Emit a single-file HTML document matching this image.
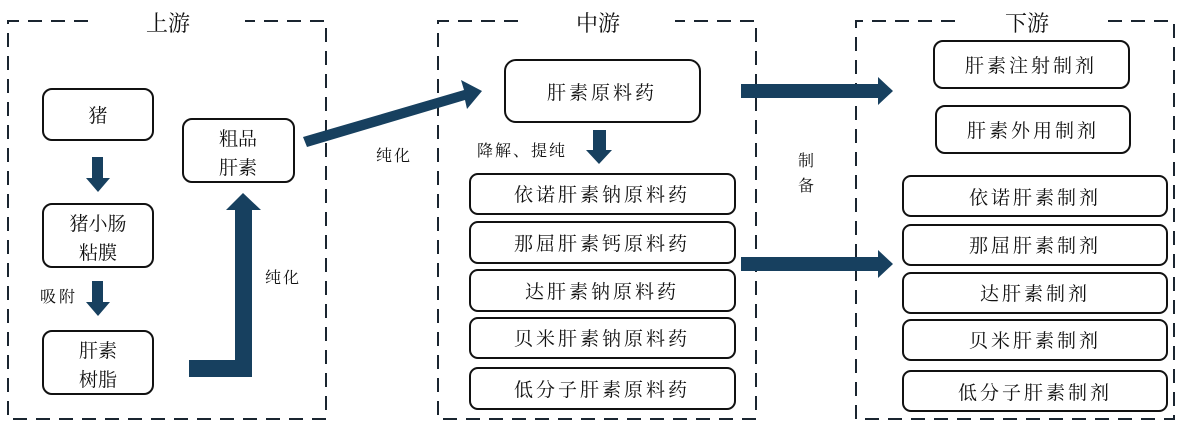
<!DOCTYPE html>
<html><head><meta charset="utf-8"><style>
html,body{margin:0;padding:0;background:#fff;}
text{font-family:"Liberation Serif","Noto Serif CJK SC",serif;fill:#111;}
</style></head><body>
<svg width="1182" height="430" viewBox="0 0 1182 430" xmlns="http://www.w3.org/2000/svg">
<g fill="none" stroke="#1a2530" stroke-width="2" stroke-dasharray="14,9">
<path d="M88 21 H8 V419 H326 V21 H245"/>
<path d="M518 21 H438 V419 H756 V21 H675"/>
<path d="M955 21 H856 V419 H1174 V21 H1100"/>
</g>
<g font-size="22" text-anchor="middle">
<text x="168" y="31">上游</text>
<text x="598" y="31">中游</text>
<text x="1027" y="31">下游</text>
</g>
<g fill="#fff" stroke="#111" stroke-width="2">
<rect x="43" y="89" width="110" height="51" rx="9"/>
<rect x="43" y="204" width="110" height="63" rx="9"/>
<rect x="43" y="331" width="110" height="63" rx="9"/>
<rect x="183" y="119" width="111" height="63" rx="9"/>
<rect x="505" y="60" width="195" height="62" rx="11"/>
<rect x="470" y="174" width="265" height="40" rx="8"/>
<rect x="470" y="222" width="265" height="41" rx="8"/>
<rect x="470" y="270" width="265" height="41" rx="8"/>
<rect x="470" y="318" width="265" height="40" rx="8"/>
<rect x="470" y="368" width="265" height="41" rx="8"/>
<rect x="934" y="41" width="195" height="47" rx="9"/>
<rect x="936" y="106" width="194" height="47" rx="9"/>
<rect x="903" y="176" width="264" height="40" rx="8"/>
<rect x="903" y="225" width="264" height="40" rx="8"/>
<rect x="903" y="273" width="264" height="40" rx="8"/>
<rect x="903" y="320" width="264" height="40" rx="8"/>
<rect x="903" y="371" width="264" height="40" rx="8"/>
</g>
<g fill="#17405f">
<polygon points="92,157 103,157 103,178 110,178 98,192 86,178 92,178"/>
<polygon points="92,281 103,281 103,302 110,302 98,316 86,302 92,302"/>
<polygon points="189,360 235,360 235,210 226,210 243,193 261,210 252,210 252,377 189,377"/>
<polygon points="303,137 464,90 461,80 482,91 467,109 465,100 307,147"/>
<polygon points="593,130 606,130 606,150 612,150 599,164 586,150 593,150"/>
<polygon points="741,84 878,84 878,77 893,91 878,105 878,98 741,98"/>
<polygon points="741,257 878,257 878,250 893,264 878,278 878,271 741,271"/>
</g>
<g font-size="19" text-anchor="middle">
<text x="98" y="122">猪</text>
<text x="98" y="230">猪小肠</text>
<text x="98" y="259">粘膜</text>
<text x="98" y="357">肝素</text>
<text x="98" y="386">树脂</text>
<text x="238" y="145">粗品</text>
<text x="238" y="174">肝素</text>
<text x="602" y="99" letter-spacing="3">肝素原料药</text>
<text x="602" y="201" letter-spacing="3">依诺肝素钠原料药</text>
<text x="602" y="250" letter-spacing="3">那屈肝素钙原料药</text>
<text x="602" y="298" letter-spacing="3">达肝素钠原料药</text>
<text x="602" y="345" letter-spacing="3">贝米肝素钠原料药</text>
<text x="602" y="396" letter-spacing="3">低分子肝素原料药</text>
<text x="1031" y="72" letter-spacing="3">肝素注射制剂</text>
<text x="1033" y="137" letter-spacing="3">肝素外用制剂</text>
<text x="1035" y="204" letter-spacing="3">依诺肝素制剂</text>
<text x="1035" y="252" letter-spacing="3">那屈肝素制剂</text>
<text x="1035" y="300" letter-spacing="3">达肝素制剂</text>
<text x="1035" y="347" letter-spacing="3">贝米肝素制剂</text>
<text x="1035" y="399" letter-spacing="3">低分子肝素制剂</text>
</g>
<g font-size="16">
<text x="376" y="161" letter-spacing="2">纯化</text>
<text x="265" y="283" letter-spacing="2">纯化</text>
<text x="40" y="302" letter-spacing="3">吸附</text>
<text x="477" y="156" letter-spacing="2">降解、提纯</text>
<text x="798" y="166">制</text>
<text x="798" y="191">备</text>
</g>
</svg>
</body></html>
